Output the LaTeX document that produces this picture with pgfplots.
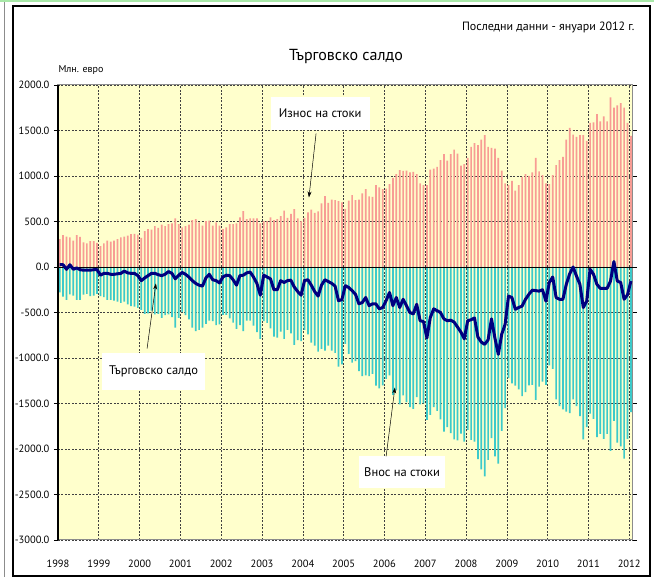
\documentclass[border=0pt]{standalone}
\usepackage{fontspec}
\setmainfont{PT Sans}
\usepackage{pgfplots}
\usepackage{pgfplotstable}
\pgfplotsset{compat=1.18}
\usetikzlibrary{arrows.meta}
\definecolor{expc}{HTML}{F89C94}
\definecolor{impc}{HTML}{3CCACA}
\definecolor{bgc}{HTML}{FFFFCC}
\definecolor{balc}{HTML}{000080}
\definecolor{frameg}{HTML}{A8E8A8}

\pgfplotstableread{
x exp imp bal
0.5 305 -280 25
1.5 350 -325 25
2.5 335 -360 -25
3.5 325 -300 25
4.5 290 -315 -25
5.5 350 -360 -10
6.5 330 -360 -30
7.5 270 -305 -35
8.5 260 -295 -35
9.5 285 -320 -35
10.5 285 -315 -30
11.5 265 -295 -30
12.5 230 -320 -90
13.5 260 -330 -70
14.5 290 -360 -70
15.5 280 -360 -80
16.5 290 -370 -80
17.5 305 -380 -75
18.5 325 -395 -70
19.5 335 -380 -45
20.5 345 -410 -65
21.5 360 -430 -70
22.5 365 -435 -70
23.5 355 -450 -95
24.5 320 -470 -150
25.5 395 -515 -120
26.5 415 -510 -95
27.5 410 -480 -70
28.5 450 -520 -70
29.5 430 -515 -85
30.5 465 -560 -95
31.5 450 -530 -80
32.5 470 -520 -50
33.5 480 -550 -70
34.5 535 -665 -130
35.5 470 -560 -90
36.5 435 -495 -60
37.5 450 -530 -80
38.5 465 -575 -110
39.5 515 -665 -150
40.5 525 -705 -180
41.5 490 -690 -200
42.5 455 -665 -210
43.5 505 -625 -120
44.5 510 -590 -80
45.5 455 -595 -140
46.5 490 -640 -150
47.5 455 -630 -175
48.5 415 -525 -110
49.5 435 -525 -90
50.5 470 -565 -95
51.5 470 -610 -140
52.5 480 -680 -200
53.5 545 -640 -95
54.5 615 -705 -90
55.5 525 -590 -65
56.5 535 -590 -55
57.5 535 -645 -110
58.5 535 -715 -180
59.5 480 -790 -310
60.5 505 -595 -90
61.5 505 -615 -110
62.5 545 -675 -130
63.5 515 -765 -250
64.5 525 -775 -250
65.5 560 -710 -150
66.5 620 -790 -170
67.5 540 -690 -150
68.5 585 -730 -145
69.5 635 -855 -220
70.5 535 -805 -270
71.5 505 -815 -310
72.5 540 -690 -150
73.5 600 -740 -140
74.5 630 -830 -200
75.5 595 -865 -270
76.5 610 -930 -320
77.5 700 -900 -200
78.5 780 -920 -140
79.5 705 -865 -160
80.5 740 -920 -180
81.5 735 -945 -210
82.5 725 -1095 -370
83.5 710 -1070 -360
84.5 640 -845 -205
85.5 730 -955 -225
86.5 790 -1050 -260
87.5 735 -1035 -300
88.5 740 -1145 -405
89.5 810 -1200 -390
90.5 855 -1190 -335
91.5 775 -1200 -425
92.5 770 -1175 -405
93.5 900 -1305 -405
94.5 875 -1335 -460
95.5 855 -1300 -445
96.5 860 -1230 -370
97.5 910 -1190 -280
98.5 980 -1405 -425
99.5 1020 -1355 -335
100.5 1065 -1510 -445
101.5 1055 -1410 -355
102.5 1060 -1485 -425
103.5 1040 -1540 -500
104.5 1045 -1560 -515
105.5 1020 -1430 -410
106.5 920 -1510 -590
107.5 900 -1500 -600
108.5 900 -1680 -780
109.5 1070 -1625 -555
110.5 1080 -1540 -460
111.5 1100 -1580 -480
112.5 1175 -1675 -500
113.5 1240 -1810 -570
114.5 1170 -1760 -590
115.5 1240 -1825 -585
116.5 1290 -1895 -605
117.5 1245 -1905 -660
118.5 1115 -1830 -715
119.5 1130 -1920 -790
120.5 1200 -1790 -590
121.5 1320 -1900 -580
122.5 1360 -1920 -560
123.5 1340 -2110 -770
124.5 1400 -2225 -825
125.5 1450 -2300 -850
126.5 1320 -2120 -800
127.5 1310 -1880 -570
128.5 1300 -2080 -780
129.5 1200 -2160 -960
130.5 1060 -1800 -740
131.5 920 -1550 -630
132.5 900 -1220 -320
133.5 945 -1280 -335
134.5 840 -1305 -465
135.5 900 -1345 -445
136.5 990 -1420 -430
137.5 1020 -1375 -355
138.5 1000 -1300 -300
139.5 1040 -1295 -255
140.5 1200 -1460 -260
141.5 1050 -1315 -265
142.5 1010 -1260 -250
143.5 920 -1295 -375
144.5 910 -1080 -170
145.5 1010 -1120 -110
146.5 1120 -1455 -335
147.5 1175 -1530 -355
148.5 1210 -1565 -355
149.5 1400 -1590 -190
150.5 1530 -1605 -75
151.5 1455 -1455 0
152.5 1430 -1530 -100
153.5 1450 -1640 -190
154.5 1450 -1895 -445
155.5 1385 -1760 -375
156.5 1585 -1610 -25
157.5 1590 -1670 -80
158.5 1680 -1870 -190
159.5 1600 -1835 -235
160.5 1655 -1890 -235
161.5 1600 -1835 -235
162.5 1865 -2020 -155
163.5 1750 -1690 60
164.5 1775 -1930 -155
165.5 1800 -1970 -170
166.5 1750 -2105 -355
167.5 1585 -1890 -305
168.5 1440 -1595 -155
}\tradedata

\begin{document}
\begin{tikzpicture}
\path[use as bounding box] (0pt,0pt) rectangle (654pt,577pt);
\draw[frameg, line width=2pt] (0pt,576pt) -- (654pt,576pt);
\draw[black!45, line width=0.8pt] (4pt,0pt) -- (4pt,575pt);
\draw[black, line width=1.2pt] (13pt,1pt) rectangle (650pt,571pt);
\begin{axis}[
  at={(58pt,37pt)}, anchor=south west,
  scale only axis, width=574.6pt, height=455pt,
  xmin=0, xmax=169, ymin=-3000, ymax=2000,
  axis background/.style={fill=bgc},
  axis line style={draw=black!45, line width=1pt},
  xtick={0,12,...,168},
  xticklabels={1998,1999,2000,2001,2002,2003,2004,2005,2006,2007,2008,2009,2010,2011,2012},
  ytick={-3000,-2500,...,2000},
  yticklabels={-3000.0,-2500.0,-2000.0,-1500.0,-1000.0,-500.0,0.0,500.0,1000.0,1500.0,2000.0},
  tick align=outside,
  major tick length=4pt,
  xtick style={draw=none},
  ytick style={black, line width=0.8pt},
  xmajorgrids, ymajorgrids,
  major grid style={black!75, line width=0.6pt, dash pattern=on 2pt off 1.5pt},
  tick label style={font=\fontsize{10.5}{12}\selectfont},
  xticklabel style={yshift=-12pt},
  yticklabel style={xshift=-1pt},
  clip=false,
]
\addplot[ybar, bar width=1.7pt, bar shift=0pt, fill=expc, draw=none] table[x=x, y=exp] {\tradedata};
\addplot[ybar, bar width=1.7pt, bar shift=0pt, fill=impc, draw=none] table[x=x, y=imp] {\tradedata};
\draw[black, line width=0.9pt] (axis cs:0,0) -- (axis cs:169,0);
\draw[black, line width=1.1pt] (axis cs:0,-3000) -- (axis cs:0,2000);
\addplot[balc, line width=3pt, line join=round, mark=none] table[x=x, y=bal] {\tradedata};

\node[fill=white, minimum width=99pt, minimum height=33pt, font=\fontsize{12.5}{14}\selectfont] at (axis cs:77.1,1687) {Износ на стоки};
\draw[-{Stealth[length=6pt,width=4pt]}, line width=0.5pt] (axis cs:75.9,1467) -- (axis cs:73.8,764);
\node[fill=white, minimum width=103pt, minimum height=37pt, font=\fontsize{12.5}{14}\selectfont] at (axis cs:28.1,-1143) {Търговско салдо};
\draw[-{Stealth[length=6pt,width=4pt]}, line width=0.5pt] (axis cs:26.2,-896) -- (axis cs:28.8,-181);
\node[fill=white, minimum width=86pt, minimum height=32pt, font=\fontsize{12.5}{14}\selectfont] at (axis cs:101.2,-2258) {Внос на стоки};
\draw[-{Stealth[length=6pt,width=4pt]}, line width=0.5pt] (axis cs:96.5,-2082) -- (axis cs:99.1,-1324);
\end{axis}
\node[font=\fontsize{16}{18}\selectfont] at (346pt,520pt) {Търговско салдо};
\node[anchor=east, font=\fontsize{12}{14}\selectfont] at (638pt,550pt) {Последни данни - януари 2012 г.};
\node[anchor=west, font=\fontsize{10}{12}\selectfont] at (55pt,507pt) {Млн. евро};
\end{tikzpicture}
\end{document}
